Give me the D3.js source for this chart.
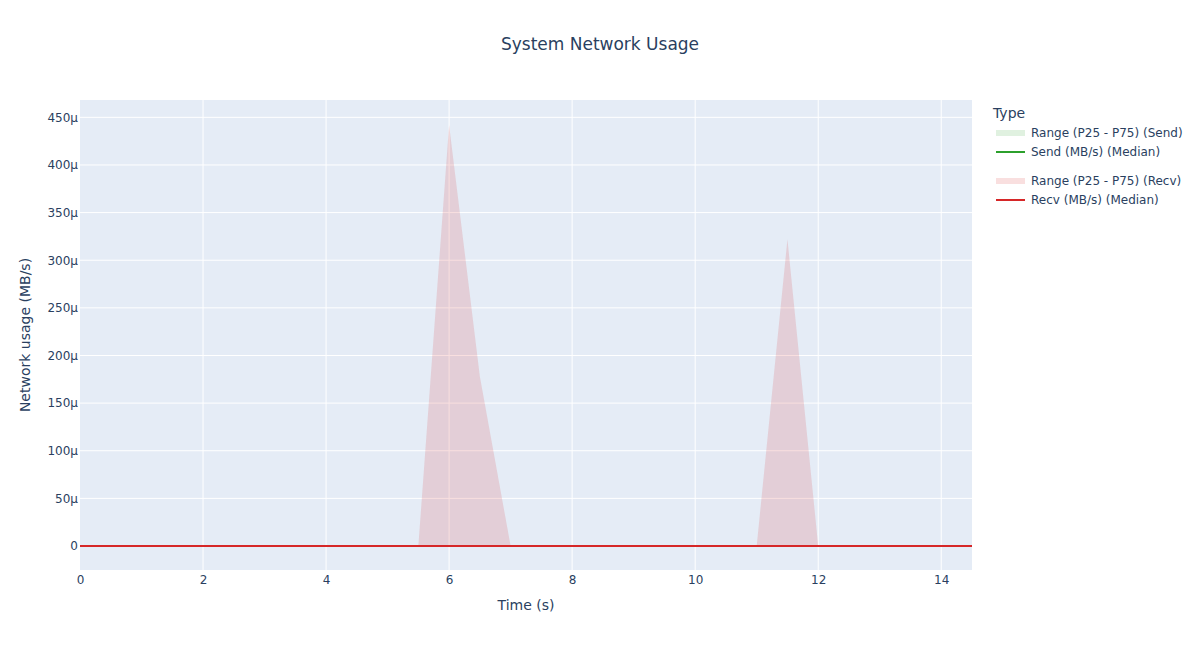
<!DOCTYPE html>
<html>
<head>
<meta charset="utf-8">
<script src="https://cdn.jsdelivr.net/npm/d3@7"></script>
<style>
  body { margin: 0; background: #fff; }
  svg text { font-family: "DejaVu Sans", sans-serif; fill: #2a3f5f; }
</style>
</head>
<body>
<svg id="chart" width="1200" height="650"></svg>
<script>
// ---- data ----
const timeS = [0, 0.5, 1, 1.5, 2, 2.5, 3, 3.5, 4, 4.5, 5, 5.5, 6, 6.5, 7, 7.5, 8, 8.5, 9, 9.5, 10, 10.5, 11, 11.5, 12, 12.5, 13, 13.5, 14, 14.5];
const sendP25 = [0,0,0,0,0,0,0,0,0,0,0,0,0,0,0,0,0,0,0,0,0,0,0,0,0,0,0,0,0,0];
const sendP75 = [0,0,0,0,0,0,0,0,0,0,0,0,0,0,0,0,0,0,0,0,0,0,0,0,0,0,0,0,0,0];
const sendMedian = [0,0,0,0,0,0,0,0,0,0,0,0,0,0,0,0,0,0,0,0,0,0,0,0,0,0,0,0,0,0];
const recvP25 = [0,0,0,0,0,0,0,0,0,0,0,0,0,0,0,0,0,0,0,0,0,0,0,0,0,0,0,0,0,0];
const recvP75 = [0,0,0,0,0,0,0,0,0,0,0,0,0.000442,0.000178,0,0,0,0,0,0,0,0,0,0.000322,0,0,0,0,0,0];
const recvMedian = [0,0,0,0,0,0,0,0,0,0,0,0,0,0,0,0,0,0,0,0,0,0,0,0,0,0,0,0,0,0];
const xTicks = [0, 2, 4, 6, 8, 10, 12, 14];
const yTicks = [0, 0.00005, 0.0001, 0.00015, 0.0002, 0.00025, 0.0003, 0.00035, 0.0004, 0.00045];
const yTickLabels = ["0", "50μ", "100μ", "150μ", "200μ", "250μ", "300μ", "350μ", "400μ", "450μ"];
const legendLabels = ["Range (P25 - P75) (Send)", "Send (MB/s) (Median)", "Range (P25 - P75) (Recv)", "Recv (MB/s) (Median)"];

// ---- layout ----
const svg = d3.select("#chart");
const L = 80, R = 972, T = 100, B = 570;
const x = d3.scaleLinear().domain([0, 14.5]).range([L, R]);
const y = d3.scaleLinear().domain([-0.0000252, 0.0004682]).range([B, T]);

svg.append("rect").attr("x", L).attr("y", T).attr("width", R - L).attr("height", B - T).attr("fill", "#e5ecf6");

// grid
const grid = svg.append("g");
grid.selectAll(".gx").data(xTicks.filter(d => d > 0)).enter().append("line")
  .attr("x1", d => x(d)).attr("x2", d => x(d)).attr("y1", T).attr("y2", B)
  .attr("stroke", "#fff").attr("stroke-width", 1);
grid.selectAll(".gy").data(yTicks).enter().append("line")
  .attr("x1", L).attr("x2", R).attr("y1", d => y(d)).attr("y2", d => y(d))
  .attr("stroke", "#fff").attr("stroke-width", 1);

// areas
const idx = d3.range(timeS.length);
const area = (lo, hi) => d3.area().x(i => x(timeS[i])).y0(i => y(lo[i])).y1(i => y(hi[i]));
const line = (v) => d3.line().x(i => x(timeS[i])).y(i => y(v[i]));

svg.append("path").datum(idx).attr("d", area(sendP25, sendP75)).attr("fill", "rgba(44,160,44,0.15)");
svg.append("path").datum(idx).attr("d", area(recvP25, recvP75)).attr("fill", "rgba(214,39,40,0.15)");
svg.append("path").datum(idx).attr("d", line(sendMedian)).attr("fill", "none").attr("stroke", "#2ca02c").attr("stroke-width", 2);
svg.append("path").datum(idx).attr("d", line(recvMedian)).attr("fill", "none").attr("stroke", "#d62728").attr("stroke-width", 2);

// axes
const xAxis = d3.axisBottom(x).tickValues(xTicks).tickSize(0).tickPadding(5).tickFormat(d => d);
const gx = svg.append("g").attr("transform", `translate(0,${B})`).call(xAxis);
gx.select(".domain").remove();
gx.selectAll("text").style("font-size", "12px").attr("fill", "#2a3f5f");

const yAxis = d3.axisLeft(y).tickValues(yTicks).tickSize(0).tickPadding(2).tickFormat((d, i) => yTickLabels[i]);
const gy = svg.append("g").attr("transform", `translate(${L},0)`).call(yAxis);
gy.select(".domain").remove();
gy.selectAll("text").style("font-size", "12px").attr("fill", "#2a3f5f");

// titles
svg.append("text").attr("x", 600).attr("y", 50).attr("text-anchor", "middle").style("font-size", "17px").text("System Network Usage");
svg.append("text").attr("x", 526).attr("y", 610).attr("text-anchor", "middle").style("font-size", "14px").text("Time (s)");
svg.append("text").attr("transform", `translate(30,${(T + B) / 2}) rotate(-90)`).attr("text-anchor", "middle").style("font-size", "14px").text("Network usage (MB/s)");

// legend
const lg = svg.append("g");
lg.append("text").attr("x", 993).attr("y", 118).style("font-size", "14px").text("Type");
const legendY = [133, 152, 181, 200];
const legendKind = ["area", "line", "area", "line"];
const legendColor = ["rgba(44,160,44,0.15)", "#2ca02c", "rgba(214,39,40,0.15)", "#d62728"];
legendLabels.forEach((lab, i) => {
  if (legendKind[i] === "area") {
    lg.append("rect").attr("x", 996).attr("y", legendY[i] - 3).attr("width", 29).attr("height", 6).attr("fill", legendColor[i]);
  } else {
    lg.append("line").attr("x1", 996).attr("x2", 1025).attr("y1", legendY[i]).attr("y2", legendY[i]).attr("stroke", legendColor[i]).attr("stroke-width", 2);
  }
  lg.append("text").attr("x", 1031).attr("y", legendY[i]).attr("dy", "0.35em").style("font-size", "12px").text(lab);
});
</script>
</body>
</html>
